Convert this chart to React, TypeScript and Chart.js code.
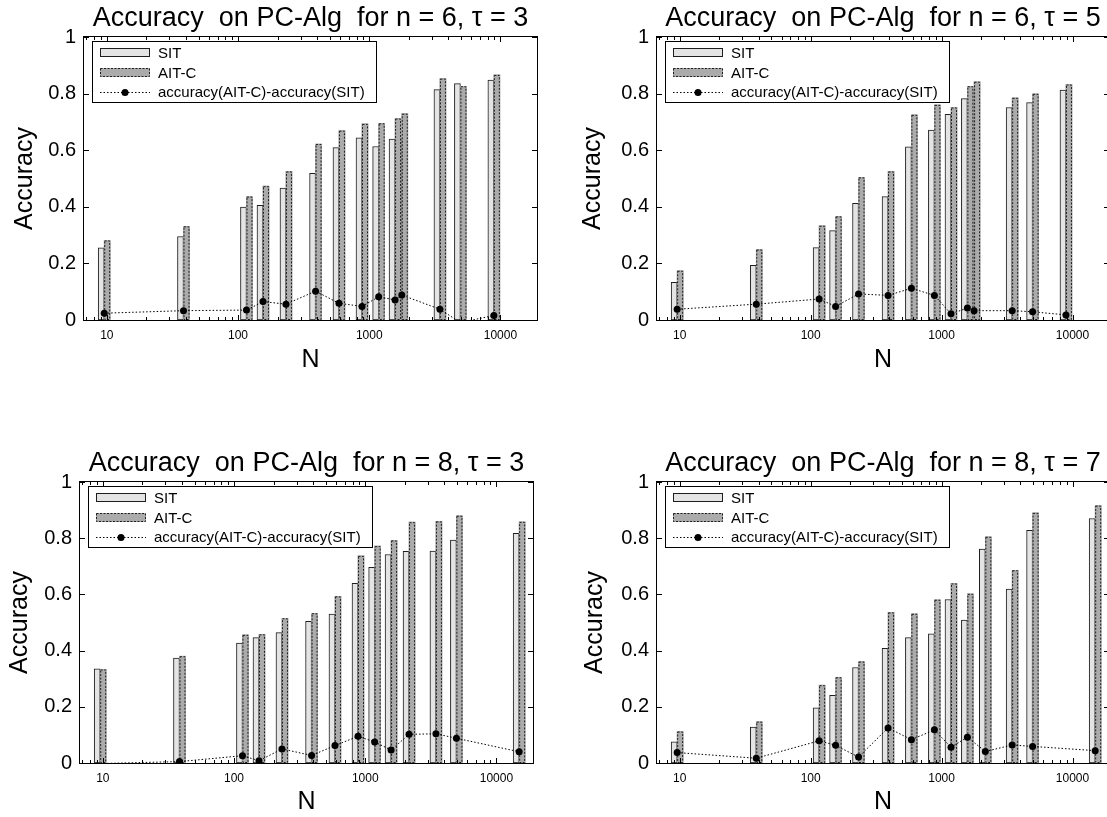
import React, { useEffect, useRef } from 'react';
import { Chart, registerables } from 'chart.js';

Chart.register(...registerables);

// ---------- data ----------
const N_SMALL = [9.55, 38.4, 116, 155, 232, 390, 588, 881, 1180, 1574, 1771, 3459, 4955, 8913];
const N_LARGE = [9.55, 38.4, 116, 155, 232, 390, 588, 881, 1180, 1574, 2158, 3459, 4955, 14900];

const SIT_N6_T3 = [0.255, 0.295, 0.399, 0.405, 0.466, 0.518, 0.609, 0.644, 0.613, 0.639, 0.641, 0.814, 0.835, 0.848];
const AIT_N6_T3 = [0.281, 0.331, 0.436, 0.473, 0.525, 0.622, 0.669, 0.693, 0.695, 0.712, 0.729, 0.853, 0.826, 0.866];
const DIFF_N6_T3 = [0.024, 0.033, 0.035, 0.065, 0.056, 0.102, 0.059, 0.048, 0.082, 0.071, 0.088, 0.038, -0.009, 0.016];

const SIT_N6_T5 = [0.133, 0.193, 0.256, 0.316, 0.412, 0.436, 0.612, 0.671, 0.727, 0.782, 0.809, 0.751, 0.768, 0.812];
const AIT_N6_T5 = [0.174, 0.249, 0.333, 0.366, 0.504, 0.525, 0.725, 0.760, 0.751, 0.826, 0.842, 0.785, 0.799, 0.832];
const DIFF_N6_T5 = [0.038, 0.056, 0.074, 0.048, 0.092, 0.087, 0.112, 0.087, 0.022, 0.042, 0.033, 0.033, 0.029, 0.018];

const SIT_N8_T3 = [0.335, 0.373, 0.427, 0.446, 0.464, 0.504, 0.530, 0.639, 0.696, 0.742, 0.753, 0.754, 0.793, 0.817];
const AIT_N8_T3 = [0.333, 0.380, 0.456, 0.458, 0.515, 0.533, 0.593, 0.737, 0.772, 0.792, 0.857, 0.860, 0.880, 0.858];
const DIFF_N8_T3 = [-0.002, 0.005, 0.026, 0.008, 0.050, 0.027, 0.062, 0.095, 0.075, 0.046, 0.102, 0.104, 0.088, 0.040];

const SIT_N8_T7 = [0.075, 0.128, 0.196, 0.241, 0.340, 0.408, 0.446, 0.460, 0.582, 0.509, 0.761, 0.619, 0.828, 0.870];
const AIT_N8_T7 = [0.112, 0.147, 0.277, 0.305, 0.361, 0.536, 0.531, 0.581, 0.639, 0.602, 0.805, 0.686, 0.890, 0.916];
const DIFF_N8_T7 = [0.037, 0.017, 0.079, 0.063, 0.021, 0.125, 0.083, 0.118, 0.056, 0.092, 0.041, 0.064, 0.059, 0.044];

const TITLES = [
  'Accuracy  on PC-Alg  for n = 6, \u03c4 = 3',
  'Accuracy  on PC-Alg  for n = 6, \u03c4 = 5',
  'Accuracy  on PC-Alg  for n = 8, \u03c4 = 3',
  'Accuracy  on PC-Alg  for n = 8, \u03c4 = 7',
];
const LEGEND_LABELS = ['SIT', 'AIT-C', 'accuracy(AIT-C)-accuracy(SIT)'];
const X_TICKS = [10, 100, 1000, 10000];
const Y_TICKS = [0, 0.2, 0.4, 0.6, 0.8, 1];
const X_MIN = 6.7;
const X_MAX = 19000;
const X_TITLE = 'N';
const Y_TITLE = 'Accuracy';

// ---------- styles / layout ----------
const FONT = '"Liberation Sans", Arial, Helvetica, sans-serif';
const SIT_FILL = '#e4e4e4';
const AIT_FILL = '#ababab';
const EDGE = '#1e1e1e';

const PANELS = [
  { n: N_SMALL, sit: SIT_N6_T3, ait: AIT_N6_T3, diff: DIFF_N6_T3, title: TITLES[0], cx: 0, cy: 0, w: 553, h: 410, L: 84, R: 537, T: 37, B: 320, xpb: 35, ypt: 10 },
  { n: N_SMALL, sit: SIT_N6_T5, ait: AIT_N6_T5, diff: DIFF_N6_T5, title: TITLES[1], cx: 560, cy: 0, w: 560, h: 410, L: 97, R: 549, T: 37, B: 320, xpb: 35, ypt: 18 },
  { n: N_LARGE, sit: SIT_N8_T3, ait: AIT_N8_T3, diff: DIFF_N8_T3, title: TITLES[2], cx: 0, cy: 445, w: 553, h: 372, L: 80, R: 533, T: 37, B: 318, xpb: 0, ypt: 5 },
  { n: N_LARGE, sit: SIT_N8_T7, ait: AIT_N8_T7, diff: DIFF_N8_T7, title: TITLES[3], cx: 560, cy: 445, w: 560, h: 372, L: 97, R: 549, T: 37, B: 318, xpb: 0, ypt: 20 },
];

// After the SIT bars are drawn, redraw the AIT-C bars on top of them (as the
// original draws the second series over the first) and give them dashed edges.
const dashedBars = {
  id: 'dashedBars',
  afterDatasetDraw(chart: any, args: any) {
    const ds = chart.data.datasets[args.index];
    if (ds.label !== LEGEND_LABELS[0]) return;
    const aitIndex = chart.data.datasets.findIndex((d: any) => d.label === LEGEND_LABELS[1]);
    const meta = chart.getDatasetMeta(aitIndex);
    const { ctx, chartArea: a } = chart;
    ctx.save();
    ctx.beginPath();
    ctx.rect(a.left, a.top, a.right - a.left, a.bottom - a.top);
    ctx.clip();
    meta.data.forEach((el: any) => el.draw(ctx, a));
    ctx.setLineDash([2, 1.5]);
    ctx.strokeStyle = EDGE;
    ctx.lineWidth = 1;
    meta.data.forEach((el: any) => {
      const p = el.getProps(['x', 'y', 'base', 'width'], true);
      const l = p.x - p.width / 2;
      ctx.strokeRect(l + 0.5, p.y + 0.5, p.width - 1, p.base - p.y - 1);
    });
    ctx.restore();
  },
};

const decor = {
  id: 'decor',
  afterDraw(chart: any) {
    const { ctx, chartArea: a, scales } = chart;
    const title = chart.options.plugins.decor.title;
    ctx.save();
    // frame
    ctx.strokeStyle = '#000';
    ctx.lineWidth = 1;
    ctx.setLineDash([]);
    ctx.strokeRect(a.left - 0.5, a.top - 0.5, a.right - a.left + 1, a.bottom - a.top + 1);
    // y ticks
    ctx.beginPath();
    Y_TICKS.forEach((v) => {
      const y = Math.round(scales.y.getPixelForValue(v)) + 0.5;
      ctx.moveTo(a.left, y); ctx.lineTo(a.left + 5, y);
      ctx.moveTo(a.right, y); ctx.lineTo(a.right - 5, y);
    });
    // x ticks (major + minor)
    for (let k = 0; k <= 4; k++) {
      for (let m = 1; m <= 9; m++) {
        const v = m * Math.pow(10, k);
        if (v < X_MIN || v > X_MAX) continue;
        const len = m === 1 ? 5 : 3;
        const x = Math.round(scales.x.getPixelForValue(v)) + 0.5;
        ctx.moveTo(x, a.bottom); ctx.lineTo(x, a.bottom - len);
        ctx.moveTo(x, a.top); ctx.lineTo(x, a.top + len);
      }
    }
    ctx.stroke();

    // legend
    const bx = a.left + 8, by = a.top + 4, bw = 284, bh = 61;
    ctx.fillStyle = '#fff';
    ctx.fillRect(bx, by, bw, bh);
    ctx.strokeStyle = '#000';
    ctx.strokeRect(bx + 0.5, by + 0.5, bw, bh);
    const rows = [by + 11.5, by + 31.5, by + 51];
    // SIT patch
    ctx.fillStyle = SIT_FILL;
    ctx.fillRect(bx + 8, rows[0] - 4.5, 50, 9);
    ctx.strokeStyle = EDGE;
    ctx.strokeRect(bx + 8.5, rows[0] - 4, 49, 8);
    // AIT patch
    ctx.fillStyle = AIT_FILL;
    ctx.fillRect(bx + 8, rows[1] - 4.5, 50, 9);
    ctx.setLineDash([2, 1.5]);
    ctx.strokeRect(bx + 8.5, rows[1] - 4, 49, 8);
    // line sample
    ctx.setLineDash([1.5, 2]);
    ctx.strokeStyle = '#000';
    ctx.beginPath();
    ctx.moveTo(bx + 8, rows[2] + 0.5);
    ctx.lineTo(bx + 58, rows[2] + 0.5);
    ctx.stroke();
    ctx.setLineDash([]);
    ctx.fillStyle = '#000';
    ctx.beginPath();
    ctx.arc(bx + 33, rows[2] + 0.5, 3.5, 0, Math.PI * 2);
    ctx.fill();
    ctx.font = `15px ${FONT}`;
    ctx.textAlign = 'left';
    ctx.textBaseline = 'middle';
    LEGEND_LABELS.forEach((t, i) => ctx.fillText(t, bx + 66, rows[i] + 1));

    // title
    ctx.font = `27px ${FONT}`;
    ctx.textAlign = 'center';
    ctx.textBaseline = 'alphabetic';
    ctx.fillText(title, (a.left + a.right) / 2, a.top - 11.5);
    ctx.restore();
  },
};

function Panel({ p }: { p: any }) {
  const ref = useRef<HTMLCanvasElement | null>(null);
  useEffect(() => {
    if (!ref.current) return;
    const chart = new Chart(ref.current, {
      type: 'bar',
      data: {
        datasets: [
          {
            type: 'bar',
            label: LEGEND_LABELS[0],
            data: p.n.map((x: number, i: number) => ({ x, y: p.sit[i] })),
            backgroundColor: SIT_FILL,
            borderColor: EDGE,
            borderWidth: 1,
            borderSkipped: false,
            barThickness: 6,
            order: 1,
          },
          {
            type: 'bar',
            label: LEGEND_LABELS[1],
            data: p.n.map((x: number, i: number) => ({ x, y: p.ait[i] })),
            backgroundColor: AIT_FILL,
            borderWidth: 0,
            barThickness: 6,
            order: 1,
          },
          {
            type: 'line',
            label: LEGEND_LABELS[2],
            data: p.n.map((x: number, i: number) => ({ x, y: p.diff[i] })),
            borderColor: '#000',
            borderWidth: 1,
            borderDash: [1.5, 2],
            backgroundColor: '#000',
            pointBackgroundColor: '#000',
            pointBorderWidth: 0,
            pointRadius: (c: any) => (c.raw && c.raw.y < 0 ? 0 : 3.5),
            tension: 0,
            clip: 0,
            order: 0,
          },
        ] as any,
      },
      options: {
        responsive: false,
        maintainAspectRatio: false,
        animation: false,
        events: [],
        layout: { padding: { left: 0, top: p.T, right: p.w - p.R, bottom: 0 } },
        plugins: {
          legend: { display: false },
          title: { display: false },
          tooltip: { enabled: false },
          decor: { title: p.title },
        } as any,
        scales: {
          x: {
            type: 'logarithmic',
            min: X_MIN,
            max: X_MAX,
            offset: false,
            grid: { display: false, drawTicks: false },
            border: { display: false },
            afterBuildTicks: (s: any) => { s.ticks = X_TICKS.map((v) => ({ value: v })); },
            afterFit: (s: any) => { s.height = p.h - p.B; },
            ticks: {
              autoSkip: false,
              maxRotation: 0,
              padding: 8,
              color: '#000',
              font: { family: FONT, size: 12 },
              callback: (v: any) => String(v),
            },
            title: { display: true, text: X_TITLE, color: '#000', font: { family: FONT, size: 25 }, padding: { top: 0, bottom: p.xpb } },
          },
          y: {
            type: 'linear',
            min: 0,
            max: 1,
            grid: { display: false, drawTicks: false },
            border: { display: false },
            afterBuildTicks: (s: any) => { s.ticks = Y_TICKS.map((v) => ({ value: v })); },
            afterFit: (s: any) => { s.width = p.L; },
            ticks: {
              padding: 8,
              color: '#000',
              font: { family: FONT, size: 20 },
              callback: (v: any) => String(v),
            },
            title: { display: true, text: Y_TITLE, color: '#000', font: { family: FONT, size: 25 }, padding: { top: p.ypt, bottom: 0 } },
          },
        } as any,
      },
      plugins: [dashedBars, decor],
    } as any);
    return () => chart.destroy();
  }, []);
  return (
    <canvas
      ref={ref}
      width={p.w}
      height={p.h}
      style={{ position: 'absolute', left: p.cx, top: p.cy, width: p.w, height: p.h }}
    />
  );
}

export default function App() {
  return (
    <div style={{ position: 'absolute', left: 0, top: 0, width: 1107, height: 817, overflow: 'hidden', background: '#fff' }}>
      {PANELS.map((p, i) => (
        <Panel key={i} p={p} />
      ))}
    </div>
  );
}
